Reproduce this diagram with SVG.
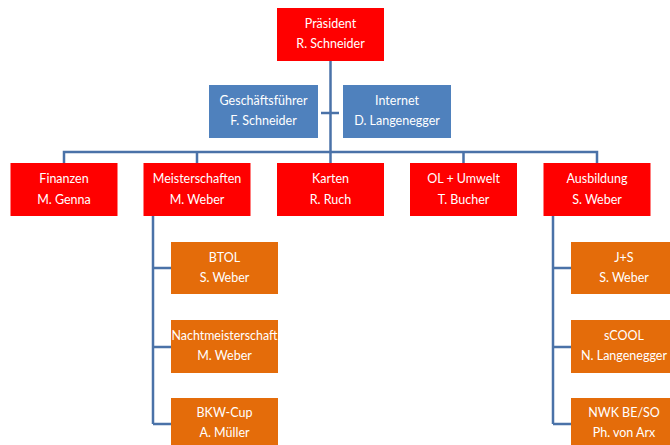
<svg xmlns="http://www.w3.org/2000/svg" width="670" height="445" viewBox="0 0 670 445">
<style>
.red{fill:#FF0000}
.blue{fill:#4F81BD}
.orange{fill:#E46C0A}
text{font-family:Lato,"Open Sans",sans-serif;font-size:12.5px;fill:#FFFFFF;text-anchor:middle}
.c{fill:none;stroke:#4A72A8;stroke-width:2.5}
</style>
<rect width="670" height="445" fill="#FFFFFF"/>
<g id="connectors">
<path class="c" d="M330.5 61V163"/>
<path class="c" d="M321 113H339"/>
<path class="c" d="M64 163V152H597V163"/>
<path class="c" d="M197 152V163M463.5 152V163"/>
<path class="c" d="M153 216V424M153 268H171M153 347H171M153 424H171"/>
<path class="c" d="M553 216V424M553 268H571M553 347H571M553 424H571"/>
</g>
<g id="praesident"><rect class="red" x="277" y="8" width="107" height="53"/><text x="330.5" y="28">Präsident</text><text x="330.5" y="48">R. Schneider</text></g>
<g id="geschaeftsfuehrer"><rect class="blue" x="209" y="85" width="109" height="53"/><text x="263.5" y="105">Geschäftsführer</text><text x="263.5" y="125">F. Schneider</text></g>
<g id="internet"><rect class="blue" x="343" y="85" width="108" height="53"/><text x="397" y="105">Internet</text><text x="397" y="125">D. Langenegger</text></g>
<g id="finanzen"><rect class="red" x="10.5" y="163" width="107" height="53"/><text x="64" y="183">Finanzen</text><text x="64" y="204">M. Genna</text></g>
<g id="meisterschaften"><rect class="red" x="143.5" y="163" width="107" height="53"/><text x="197" y="183">Meisterschaften</text><text x="197" y="204">M. Weber</text></g>
<g id="karten"><rect class="red" x="277" y="163" width="107" height="53"/><text x="330.5" y="183">Karten</text><text x="330.5" y="204">R. Ruch</text></g>
<g id="ol-umwelt"><rect class="red" x="410" y="163" width="107" height="53"/><text x="463.5" y="183">OL + Umwelt</text><text x="463.5" y="204">T. Bucher</text></g>
<g id="ausbildung"><rect class="red" x="543.5" y="163" width="107" height="53"/><text x="597" y="183">Ausbildung</text><text x="597" y="204">S. Weber</text></g>
<g id="btol"><rect class="orange" x="171" y="242" width="107" height="52"/><text x="224.5" y="262">BTOL</text><text x="224.5" y="282">S. Weber</text></g>
<g id="nachtmeisterschaft"><rect class="orange" x="171" y="320" width="107" height="53"/><text x="224.5" y="340" textLength="106" lengthAdjust="spacingAndGlyphs">Nachtmeisterschaft</text><text x="224.5" y="360">M. Weber</text></g>
<g id="bkw-cup"><rect class="orange" x="171" y="398" width="107" height="53"/><text x="224.5" y="417">BKW-Cup</text><text x="224.5" y="437">A. Müller</text></g>
<g id="js"><rect class="orange" x="571" y="242" width="107" height="52"/><text x="624" y="262">J+S</text><text x="624" y="282">S. Weber</text></g>
<g id="scool"><rect class="orange" x="571" y="320" width="107" height="53"/><text x="624" y="340">sCOOL</text><text x="624" y="360">N. Langenegger</text></g>
<g id="nwk"><rect class="orange" x="571" y="398" width="107" height="53"/><text x="624" y="417">NWK BE/SO</text><text x="624" y="437">Ph. von Arx</text></g>
</svg>
